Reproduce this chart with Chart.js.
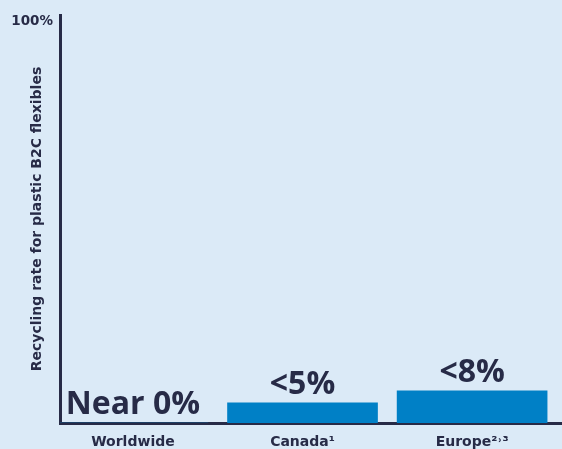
<!DOCTYPE html>
<html>
<head>
<meta charset="utf-8">
<script src="https://cdn.jsdelivr.net/npm/chart.js@4/dist/chart.umd.min.js"></script>
<style>
html,body{margin:0;padding:0;background:#dbeaf7;}
#wrap{width:562px;height:449px;position:relative;}
</style>
</head>
<body>
<div id="wrap"><canvas id="c"></canvas></div>
<script>
const categories = ['Worldwide', 'Canada\u00B9', 'Europe\u00B2\u02D2\u00B3'];
const values = [0, 5, 8];
const valueLabels = ['Near 0%', '<5%', '<8%'];
const yTickLabels = ['100%'];
const yTickValues = [100];
const yTitle = 'Recycling rate for plastic B2C flexibles';

const NAVY = '#272b47';
const BLUE = '#0080c6';
const BIG_FONT = "'Open Sans', sans-serif";
const SMALL_FONT = "'DejaVu Sans', sans-serif";

const labelPlugin = {
  id: 'valueLabels',
  afterDatasetsDraw(chart) {
    const ctx = chart.ctx;
    const meta = chart.getDatasetMeta(0);
    ctx.save();
    ctx.fillStyle = NAVY;
    ctx.font = "700 32px " + BIG_FONT;
    ctx.textAlign = 'center';
    ctx.textBaseline = 'alphabetic';
    meta.data.forEach((el, i) => {
      ctx.fillText(valueLabels[i], el.x, el.y - 9);
    });
    ctx.restore();
  }
};

new Chart(document.getElementById('c'), {
  type: 'bar',
  data: {
    datasets: [{
      data: values.map((v, i) => ({x: i, y: v})),
      backgroundColor: BLUE,
      borderWidth: 0,
      barThickness: 150
    }]
  },
  options: {
    responsive: true,
    maintainAspectRatio: false,
    animation: false,
    layout: {padding: {top: 10, right: 0, bottom: 0, left: 0}},
    plugins: {legend: {display: false}, tooltip: {enabled: false}},
    scales: {
      x: {
        type: 'linear',
        offset: false,
        min: -0.43,
        max: 2.53,
        afterBuildTicks(scale) { scale.ticks = categories.map((_, i) => ({value: i})); },
        afterFit(scale) { scale.height = 26; },
        grid: {display: false, drawTicks: false, offset: false},
        border: {display: true, color: NAVY, width: 3},
        ticks: {
          padding: 11,
          color: NAVY,
          font: {family: SMALL_FONT, weight: '700', size: 14},
          callback: (v) => categories[v] ?? ''
        }
      },
      y: {
        min: 0,
        max: 101.5,
        afterBuildTicks(scale) { scale.ticks = yTickValues.map(v => ({value: v})); },
        afterFit(scale) { scale.width = 60; },
        grid: {display: false, drawTicks: false},
        border: {display: true, color: NAVY, width: 3},
        ticks: {
          padding: 7,
          color: NAVY,
          font: {family: SMALL_FONT, weight: '700', size: 13.5},
          callback: (v) => yTickLabels[yTickValues.indexOf(v)] ?? ''
        },
        title: {
          display: true,
          text: yTitle,
          color: NAVY,
          font: {family: SMALL_FONT, weight: '700', size: 14},
          padding: {top: 29, bottom: 0}
        }
      }
    }
  },
  plugins: [labelPlugin]
});
</script>
</body>
</html>
